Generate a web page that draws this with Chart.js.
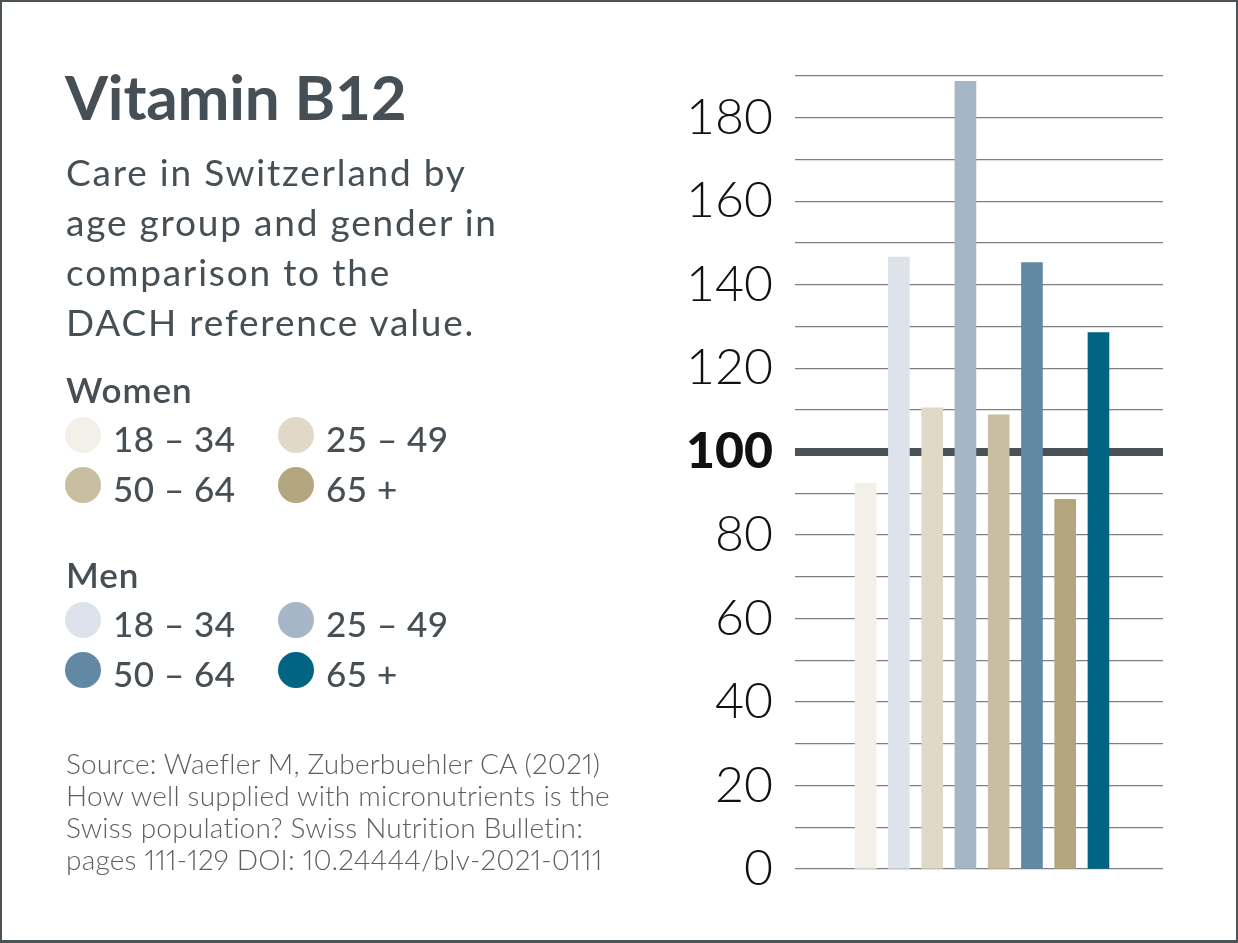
<!DOCTYPE html>
<html>
<head>
<meta charset="utf-8">
<script src="https://cdn.jsdelivr.net/npm/chart.js@4.4.1/dist/chart.umd.min.js"></script>
<style>
  html, body { margin: 0; padding: 0; background: #fff; }
  #page { position: relative; width: 1238px; height: 943px; overflow: hidden; background: #fff; }
  #frame { position: absolute; left: 0; top: 0; width: 1238px; height: 943px; box-sizing: border-box; border: 2px solid #4b5357; border-bottom-width: 3px; pointer-events: none; z-index: 5; }
  #chart { position: absolute; left: 0; top: 0; }
  .t { position: absolute; white-space: nowrap; font-family: Lato, "Open Sans", sans-serif; color: #464f55; }
  .src { font-variant-numeric: proportional-nums; }
  .dot { position: absolute; width: 36px; height: 36px; border-radius: 50%; }
</style>
</head>
<body>
<div id="page">
  <canvas id="chart" width="1238" height="943"></canvas>
  <div id="texts"></div>
  <div id="frame"></div>
</div>
<script>
// ---- data ----
const title = 'Vitamin B12';
const subtitleLines = ['Care in Switzerland by', 'age group and gender in', 'comparison to the', 'DACH reference value.'];
const sourceLines = ['Source: Waefler M, Zuberbuehler CA (2021)', 'How well supplied with micronutrients is the', 'Swiss population? Swiss Nutrition Bulletin:', 'pages 111-129 DOI: 10.24444/blv-2021-0111'];
const ageGroups = ['18 – 34', '25 – 49', '50 – 64', '65 +'];
const groupNames = ['Women', 'Men'];
const womenValues = [92.4, 110.5, 108.8, 88.6];
const menValues = [146.6, 188.7, 145.3, 128.5];
const womenColors = ['#f3f0e9', '#e0d9c8', '#c9bea0', '#b3a57e'];
const menColors = ['#dde2eb', '#a6b6c6', '#6289a4', '#006482'];
const yTickLabels = [0, 20, 40, 60, 80, 100, 120, 140, 160, 180];
const referenceValue = 100;

// ---- left side texts ----
const texts = document.getElementById('texts');
function addText(str, x, baseline, size, weight, color, spacing, cls) {
  const d = document.createElement('div');
  d.className = 't' + (cls ? ' ' + cls : '');
  d.textContent = str;
  d.style.left = x + 'px';
  d.style.fontSize = size + 'px';
  d.style.lineHeight = (size * 1.2) + 'px';
  d.style.top = (baseline - size * 0.987) + 'px';
  d.style.fontWeight = weight;
  if (color) d.style.color = color;
  if (spacing) d.style.letterSpacing = spacing + 'px';
  texts.appendChild(d);
  return d;
}
function addDot(cx, cy, color) {
  const d = document.createElement('div');
  d.className = 'dot';
  d.style.left = (cx - 18) + 'px';
  d.style.top = (cy - 18) + 'px';
  d.style.background = color;
  texts.appendChild(d);
}
addText(title, 65, 120, 62, 700, null, -0.2);
subtitleLines.forEach((s, i) => addText(s, 66, 187 + i * 50, 37, 400, null, 1.8));
const groupBase = [403, 588];
const groupColors = [womenColors, menColors];
groupNames.forEach((g, gi) => {
  addText(g, 66, groupBase[gi], 35, 600, null, 1);
  ageGroups.forEach((a, ai) => {
    const col = ai % 2, row = Math.floor(ai / 2);
    const base = groupBase[gi] + 49 + row * 50;
    const cx = col === 0 ? 83 : 296;
    addDot(cx, base - 17, groupColors[gi][ai]);
    addText(a, cx + 30, base, 35, 500, null, 0.5);
  });
});
sourceLines.forEach((s, i) => addText(s, 66, 775 + i * 32, 28, 300, '#5b5f62', 0.2, 'src'));

// ---- chart ----
const womenData = womenValues.map((v, i) => ({ x: 2 * i + 1, y: v }));
const menData = menValues.map((v, i) => ({ x: 2 * i + 2, y: v }));

new Chart(document.getElementById('chart'), {
  type: 'bar',
  data: {
    datasets: [
      { label: groupNames[0], data: womenData, backgroundColor: womenColors, barThickness: 21, grouped: false },
      { label: groupNames[1], data: menData, backgroundColor: menColors, barThickness: 21, grouped: false }
    ]
  },
  options: {
    responsive: false,
    animation: false,
    layout: { padding: { left: 675, right: 75, top: 76, bottom: 74 } },
    plugins: { legend: { display: false }, tooltip: { enabled: false } },
    scales: {
      x: { type: 'linear', min: -1.124, max: 9.94, offset: false, display: false },
      y: {
        min: 0, max: 190,
        afterFit: (s) => { s.width = 120; },
        border: { display: false },
        grid: {
          drawTicks: false,
          color: (ctx) => ctx.tick && ctx.tick.value === referenceValue ? '#4a5257' : '#7d7f80',
          lineWidth: (ctx) => ctx.tick && ctx.tick.value === referenceValue ? 8 : 1.3
        },
        ticks: {
          stepSize: 10,
          autoSkip: false,
          padding: 22,
          color: '#111',
          callback: (v) => yTickLabels.includes(v) ? String(v) : '',
          font: (ctx) => ctx.tick && ctx.tick.value === referenceValue
            ? { family: 'Lato', size: 50, weight: '900' }
            : { family: 'Lato', size: 50, weight: '300' }
        }
      }
    }
  }
});
</script>
</body>
</html>
